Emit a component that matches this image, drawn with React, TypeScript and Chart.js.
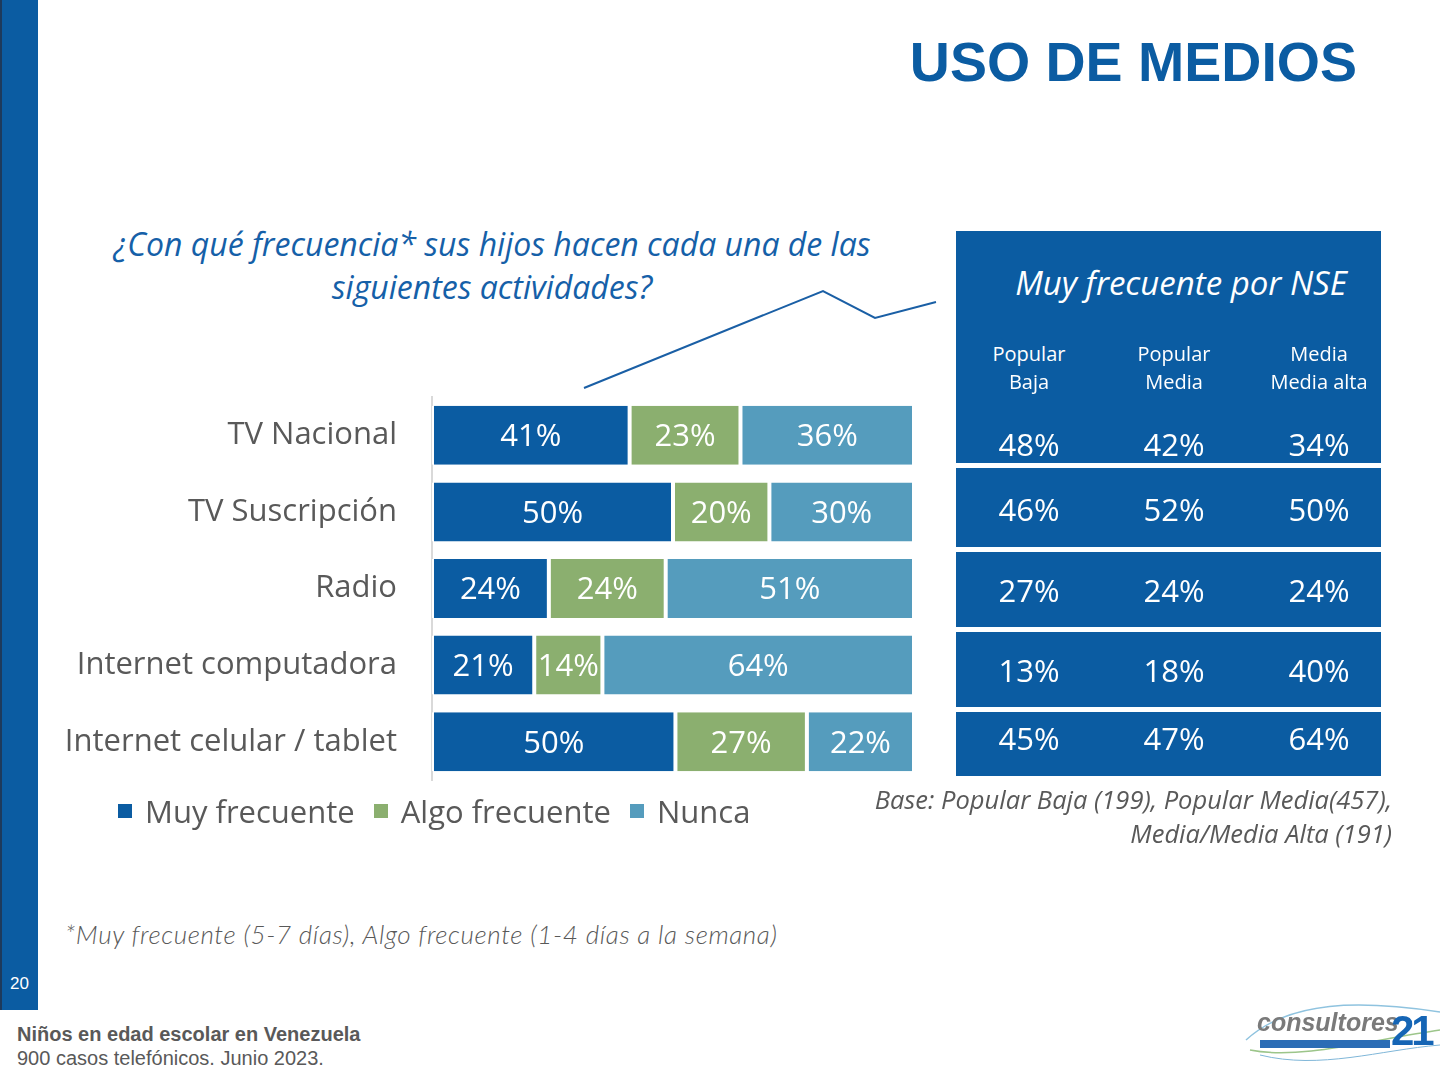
import React, { useEffect, useRef } from "react";
import { Chart, registerables } from "chart.js";

Chart.register(...registerables);

// ---------- DATA ----------
const categories = [
  "TV Nacional",
  "TV Suscripción",
  "Radio",
  "Internet computadora",
  "Internet celular / tablet",
];
const muyFrecuente = [41, 50, 24, 21, 50];
const algoFrecuente = [23, 20, 24, 14, 27];
const nunca = [36, 30, 51, 64, 22];
const seriesNames = ["Muy frecuente", "Algo frecuente", "Nunca"];

const nseHeaders = [
  ["Popular", "Baja"],
  ["Popular", "Media"],
  ["Media", "Media alta"],
];
const nsePopularBaja = [48, 46, 27, 13, 45];
const nsePopularMedia = [42, 52, 24, 18, 47];
const nseMediaAlta = [34, 50, 24, 40, 64];

// ---------- STYLE ----------
const DARK = "#0B5CA2";
const GREEN = "#8BAF6F";
const LIGHT = "#559CBD";
const seriesColors = [DARK, GREEN, LIGHT];
const GRAY = "#595959";
const OPEN = "'Open Sans', sans-serif";
const ARIAL = "'Liberation Sans', Arial, sans-serif";

type TProps = {
  x: number;
  y: number;
  size: number;
  align?: "left" | "right" | "center";
  family?: string;
  color?: string;
  italic?: boolean;
  bold?: boolean;
  k?: number;
  extra?: React.CSSProperties;
  children: React.ReactNode;
};

function T({ x, y, size, align = "left", family = OPEN, color = GRAY, italic, bold, k = 0.53, extra, children }: TProps) {
  const style: React.CSSProperties = {
    position: "absolute",
    top: y - k * size,
    lineHeight: size + "px",
    fontSize: size,
    fontFamily: family,
    color,
    fontStyle: italic ? "italic" : "normal",
    fontWeight: bold ? 700 : 400,
    whiteSpace: "nowrap",
    ...extra,
  };
  if (align === "left") style.left = x;
  else if (align === "right") style.right = 1440 - x;
  else {
    style.left = x - 600;
    style.width = 1200;
    style.textAlign = "center";
  }
  return <div style={style}>{children}</div>;
}

function BarChart() {
  const ref = useRef<HTMLCanvasElement | null>(null);
  useEffect(() => {
    if (!ref.current) return;
    const raw = [muyFrecuente, algoFrecuente, nunca];
    const totals = categories.map((_, i) => raw.reduce((s, arr) => s + arr[i], 0));
    const labelPlugin = {
      id: "barLabels",
      afterDatasetsDraw(chart: any) {
        const ctx = chart.ctx;
        ctx.save();
        ctx.font = "31px 'Open Sans'";
        ctx.fillStyle = "#ffffff";
        ctx.textAlign = "center";
        ctx.textBaseline = "middle";
        raw.forEach((arr, k) => {
          const meta = chart.getDatasetMeta(k);
          meta.data.forEach((bar: any, i: number) => {
            const p = bar.getProps(["x", "y", "base"], true);
            ctx.fillText(arr[i] + "%", (p.x + p.base) / 2, p.y + 2);
          });
        });
        ctx.restore();
      },
    };
    const chart = new Chart(ref.current, {
      type: "bar",
      data: {
        labels: categories,
        datasets: raw.map((arr, k) => ({
          label: seriesNames[k],
          data: arr.map((v, i) => (v / totals[i]) * 100),
          backgroundColor: seriesColors[k],
          borderColor: "#ffffff",
          borderWidth: { left: 2, right: 2, top: 0, bottom: 0 },
          borderSkipped: false,
          barPercentage: 0.77,
          categoryPercentage: 1,
        })),
      },
      options: {
        indexAxis: "y",
        animation: false,
        responsive: true,
        maintainAspectRatio: false,
        layout: { padding: { top: 7, bottom: 10, right: 16, left: 0 } },
        plugins: { legend: { display: false }, tooltip: { enabled: false } },
        scales: {
          x: { stacked: true, min: 0, max: 100, display: false },
          y: {
            stacked: true,
            grid: { display: false, drawTicks: false },
            border: { display: true, color: "#d9d9d9", width: 2 },
            ticks: { color: GRAY, font: { family: "'Open Sans'", size: 31 }, padding: 35 },
            afterFit: (scale: any) => {
              scale.width = 392;
              scale.paddingTop = 0;
              scale.paddingBottom = 0;
            },
          },
        },
      } as any,
      plugins: [labelPlugin],
    });
    return () => chart.destroy();
  }, []);
  return (
    <div style={{ position: "absolute", left: 40, top: 390, width: 890, height: 400 }}>
      <canvas ref={ref} />
    </div>
  );
}

export default function App() {
  const nseCols = [nsePopularBaja, nsePopularMedia, nseMediaAlta];
  const colX = [1029, 1174, 1319];
  const rowY = [445, 510, 591, 671, 739];
  const sepY = [463, 547, 627, 707];
  return (
    <div
      style={{
        position: "absolute",
        left: 0,
        top: 0,
        width: 1440,
        height: 1078,
        background: "#ffffff",
        overflow: "hidden",
      }}
    >
      {/* left band */}
      <div style={{ position: "absolute", left: 0, top: 0, width: 38, height: 1010, background: DARK }} />
      <div style={{ position: "absolute", left: 0, top: 0, width: 2, height: 1010, background: "#1d3a5c" }} />
      <T x={10} y={983} size={17} family={ARIAL} color="#ffffff" k={0.49}>20</T>

      {/* title */}
      <T x={1357} y={62.5} size={55.5} align="right" family={ARIAL} color={DARK} bold k={0.49}>
        USO DE MEDIOS
      </T>

      {/* question */}
      <T x={492} y={245} size={32} align="center" color="#1560a8" italic>
        ¿Con qué frecuencia* sus hijos hacen cada una de las
      </T>
      <T x={492} y={288} size={32} align="center" color="#1560a8" italic>
        siguientes actividades?
      </T>

      {/* connector */}
      <svg style={{ position: "absolute", left: 0, top: 0 }} width={1440} height={1078}>
        <polyline points="584,388 823,291 875,318 936,302" fill="none" stroke="#1a5fa5" strokeWidth={2} />
      </svg>

      <BarChart />

      {/* legend */}
      <div
        style={{
          position: "absolute",
          left: 118,
          top: 811 - 22,
          height: 44,
          display: "flex",
          alignItems: "center",
          fontFamily: OPEN,
          fontSize: 31,
          color: GRAY,
          whiteSpace: "nowrap",
        }}
      >
        {seriesNames.map((n, i) => (
          <div key={n} style={{ display: "flex", alignItems: "center", marginRight: 19 }}>
            <div style={{ width: 14, height: 14, background: seriesColors[i], marginRight: 13 }} />
            <span>{n}</span>
          </div>
        ))}
      </div>

      {/* NSE table */}
      <div style={{ position: "absolute", left: 956, top: 231, width: 425, height: 545, background: DARK }} />
      {sepY.map((y) => (
        <div key={y} style={{ position: "absolute", left: 956, top: y, width: 425, height: 5, background: "#ffffff" }} />
      ))}
      <T x={1181} y={283} size={33} align="center" color="#ffffff" italic>
        Muy frecuente por NSE
      </T>
      {nseHeaders.map((h, c) => (
        <React.Fragment key={c}>
          <T x={colX[c]} y={355} size={20} align="center" color="#ffffff">{h[0]}</T>
          <T x={colX[c]} y={383} size={20} align="center" color="#ffffff">{h[1]}</T>
        </React.Fragment>
      ))}
      {nseCols.map((col, c) =>
        col.map((v, r) => (
          <T key={c + "-" + r} x={colX[c]} y={rowY[r]} size={31} align="center" color="#ffffff">
            {v}%
          </T>
        ))
      )}

      {/* base */}
      <T x={1392} y={801} size={25.5} align="right" italic>
        Base: Popular Baja (199), Popular Media(457),
      </T>
      <T x={1392} y={835} size={25.5} align="right" italic>
        Media/Media Alta (191)
      </T>

      {/* footnote */}
      <T x={65} y={935} size={26} family="Lato, sans-serif" italic extra={{ fontWeight: 300, letterSpacing: 0.6 }}>
        *Muy frecuente (5-7 días), Algo frecuente (1-4 días a la semana)
      </T>

      {/* bottom-left */}
      <T x={17} y={1034} size={20} family={ARIAL} bold k={0.49}>
        Niños en edad escolar en Venezuela
      </T>
      <T x={17} y={1058} size={20} family={ARIAL} k={0.49}>
        900 casos telefónicos. Junio 2023.
      </T>

      {/* logo */}
      <svg style={{ position: "absolute", left: 0, top: 0 }} width={1440} height={1078}>
        <path d="M1246,1040 C1290,1000 1360,1000 1440,1012" fill="none" stroke="#8fc3df" strokeWidth={1.5} />
        <path d="M1250,1050 C1300,1060 1370,1040 1440,1030" fill="none" stroke="#9cc58a" strokeWidth={1.5} />
        <path d="M1260,1055 C1320,1070 1380,1050 1440,1045" fill="none" stroke="#7fb6d8" strokeWidth={1} />
      </svg>
      <T x={1257} y={1022} size={25} family={ARIAL} color="#7a7a7a" italic bold k={0.49}>
        consultores
      </T>
      <div style={{ position: "absolute", left: 1260, top: 1040, width: 130, height: 8, background: "#2a6cb5" }} />
      <T x={1391} y={1031} size={42} family={ARIAL} color="#1565b5" bold k={0.49} extra={{ letterSpacing: -3 }}>
        21
      </T>
    </div>
  );
}
